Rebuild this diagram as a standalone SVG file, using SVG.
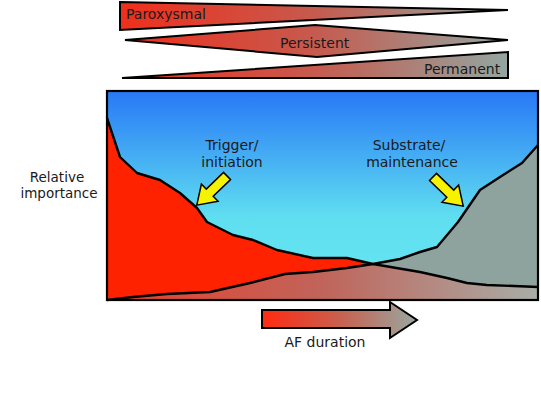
<svg xmlns="http://www.w3.org/2000/svg" width="541" height="402" viewBox="0 0 541 402">
<style>
.t{font-family:"DejaVu Sans","Open Sans",sans-serif;font-size:14px;fill:#1a1a1a}
.c{text-anchor:middle}
.ol{stroke:#000;stroke-width:2;stroke-linejoin:miter}
.curve{fill:none;stroke:#000;stroke-width:2.4;stroke-linejoin:round}
.yarrow{fill:#f7f200;stroke:#000;stroke-width:1.5;stroke-linejoin:miter}
</style>
<defs>
<linearGradient id="wedge" gradientUnits="userSpaceOnUse" x1="120" y1="0" x2="508" y2="0">
<stop offset="0" stop-color="#ef2f1c"/>
<stop offset="0.5" stop-color="#c65a4e"/>
<stop offset="1" stop-color="#93a6a1"/>
</linearGradient>
<linearGradient id="sky" x1="0" y1="0" x2="0" y2="1">
<stop offset="0" stop-color="#2878f6"/>
<stop offset="0.6" stop-color="#5fdef0"/>
<stop offset="1" stop-color="#66e8f2"/>
</linearGradient>
<linearGradient id="low" gradientUnits="userSpaceOnUse" x1="107" y1="0" x2="538" y2="0">
<stop offset="0" stop-color="#e8402c"/>
<stop offset="0.5" stop-color="#c0645a"/>
<stop offset="1" stop-color="#a8aea8"/>
</linearGradient>
<linearGradient id="af" gradientUnits="userSpaceOnUse" x1="262" y1="0" x2="417" y2="0">
<stop offset="0" stop-color="#ff2a12"/>
<stop offset="0.5" stop-color="#c8604e"/>
<stop offset="1" stop-color="#98a8a2"/>
</linearGradient>
</defs>

<g id="paroxysmal">
<polygon class="ol" fill="url(#wedge)" points="120,2 508,10 120,30"/>
<text class="t" x="126" y="19">Paroxysmal</text>
</g>
<g id="persistent">
<polygon class="ol" fill="url(#wedge)" points="125,40 315,25 508,40 317,57"/>
<text class="t" x="280" y="48">Persistent</text>
</g>
<g id="permanent">
<polygon class="ol" fill="url(#wedge)" points="122,78 508,52 508,78"/>
<text class="t" x="424" y="74">Permanent</text>
</g>

<g id="chart">
<rect x="107" y="91" width="431" height="209" fill="url(#sky)"/>
<polygon fill="#ff2200" points="107,118 120,157 137,173 160,180 180,193 197,208 207,222 233,235 253,240 277,250 313,258 347,258 373,264 420,272 447,278 467,283 487,285 538,287 538,300 107,300"/>
<polygon fill="#8fa39e" points="107,300 133,297 167,294 210,292 250,283 285,274 313,272 347,268 373,264 400,259 420,252 437,247 458,222 480,190 500,177 522,163 538,145 538,300"/>
<polygon fill="url(#low)" points="107,300 133,297 167,294 210,292 250,283 285,274 313,272 347,268 373,264 420,272 447,278 467,283 487,285 538,287 538,300"/>
<polyline class="curve" points="107,118 120,157 137,173 160,180 180,193 197,208 207,222 233,235 253,240 277,250 313,258 347,258 373,264 420,272 447,278 467,283 487,285 538,287"/>
<polyline class="curve" points="107,300 133,297 167,294 210,292 250,283 285,274 313,272 347,268 373,264 400,259 420,252 437,247 458,222 480,190 500,177 522,163 538,145"/>
<rect x="107" y="91" width="431" height="209" fill="none" stroke="#000" stroke-width="2.2"/>
</g>

<g id="trigger">
<polygon class="yarrow" transform="translate(227,176) rotate(136)" points="0,-5 24,-5 24,-12 42,0 24,12 24,5 0,5"/>
<text class="t c" x="232" y="150">Trigger/</text>
<text class="t c" x="232" y="167">initiation</text>
</g>
<g id="substrate">
<polygon class="yarrow" transform="translate(433,177) rotate(44)" points="0,-5 24,-5 24,-12 42,0 24,12 24,5 0,5"/>
<text class="t c" x="409" y="150">Substrate/</text>
<text class="t c" x="412" y="167">maintenance</text>
</g>

<g id="relative-importance">
<text class="t c" x="57" y="182" style="font-size:13.5px">Relative</text>
<text class="t c" x="59" y="198" style="font-size:13.5px">importance</text>
</g>

<g id="af-duration">
<polygon class="ol" fill="url(#af)" points="262,310 390,310 390,302 417,320 390,338 390,328 262,328"/>
<text class="t c" x="325" y="347">AF duration</text>
</g>
</svg>
